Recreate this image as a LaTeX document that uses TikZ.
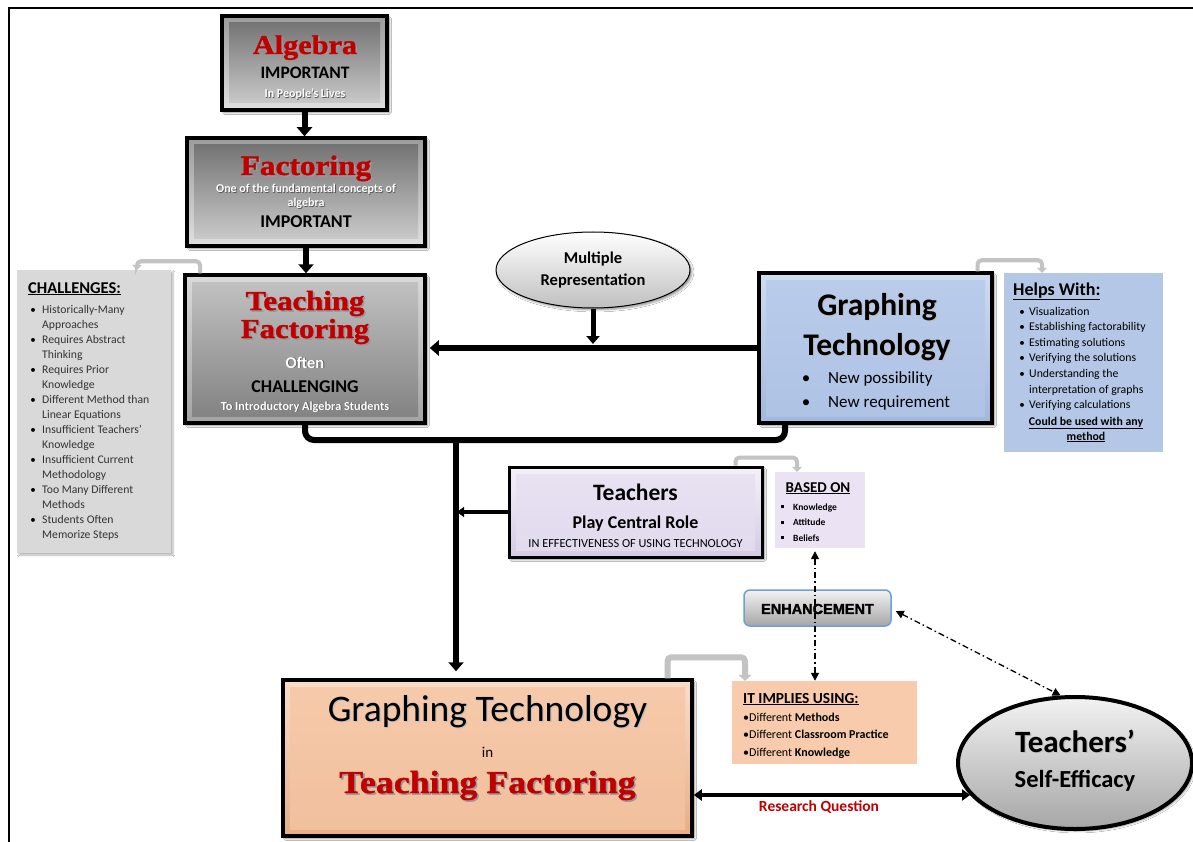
\documentclass[tikz,border=0pt]{standalone}
\usepackage{fontspec}
\setmainfont{Carlito}
\newfontfamily\titlefont{Liberation Serif}[FakeStretch=1.12,BoldFeatures={FakeBold=1.4}]
\newfontfamily\blockfont{Liberation Sans}[BoldFeatures={FakeBold=1.6}]
\usetikzlibrary{arrows.meta,shapes.geometric,shadows.blur,calc}

\definecolor{titlered}{HTML}{C00000}
\definecolor{gOutT}{HTML}{9C9C9C}\definecolor{gOutB}{HTML}{E0E0E0}
\definecolor{gInT}{HTML}{6E6E6E}\definecolor{gInB}{HTML}{D0D0D0}
\definecolor{tOutT}{HTML}{DADADA}\definecolor{tOutB}{HTML}{A4A4A4}
\definecolor{tInT}{HTML}{C4C4C4}\definecolor{tInB}{HTML}{808080}
\definecolor{bOutT}{HTML}{CFDCF1}\definecolor{bOutB}{HTML}{A2B7DC}
\definecolor{bInT}{HTML}{BACCEA}\definecolor{bInB}{HTML}{AEC2E5}
\definecolor{lOutT}{HTML}{F4F1F9}\definecolor{lOutB}{HTML}{D4CAE4}
\definecolor{lInT}{HTML}{E8E2F2}\definecolor{lInB}{HTML}{E1DAEE}
\definecolor{pOutT}{HTML}{FADDC8}\definecolor{pOutB}{HTML}{E6AE88}
\definecolor{pInT}{HTML}{F6CAAB}\definecolor{pInB}{HTML}{F1BF9C}
\definecolor{chalgray}{HTML}{D9D9D9}
\definecolor{helpblue}{HTML}{B4C7E7}
\definecolor{basedlav}{HTML}{EBE3F4}
\definecolor{implypeach}{HTML}{F8CBAD}
\definecolor{enhborder}{HTML}{6F9FD8}
\definecolor{bentgray}{HTML}{C3C3C3}

\newcommand\fsz[1]{\fontsize{#1}{#1}\selectfont}
\newcommand\redtitle[1]{\leavevmode\rlap{\hspace{1.6pt}\raisebox{-1.6pt}{\color{black!40}#1}}{\color{titlered}#1}}
\newcommand\whitetxt[1]{\leavevmode\rlap{\hspace{0.8pt}\raisebox{-0.8pt}{\color{black!65}#1}}{\color{white}#1}}
\newcommand\shtxt[1]{\leavevmode\rlap{\hspace{1.2pt}\raisebox{-1.2pt}{\color{black!25}#1}}#1}
\newcommand\sqbul{\raisebox{1.6pt}{\rule{3pt}{3pt}}}

\tikzset{
  tx/.style={inner sep=0pt,anchor=base},
  txl/.style={inner sep=0pt,anchor=base west},
  bx/.style={draw=black,line width=3.5pt,inner sep=0pt,
    blur shadow={shadow xshift=2.5pt,shadow yshift=-2.5pt,shadow opacity=45,shadow blur steps=6}},
  bevel/.style n args={4}{top color=#1,bottom color=#2,
    path picture={\shade[top color=#3,bottom color=#4]
      ([shift={(7pt,7pt)}]path picture bounding box.south west) rectangle
      ([shift={(-7pt,-7pt)}]path picture bounding box.north east);}},
  flatbox/.style={inner sep=0pt},
  bigarrow/.style={line width=6pt,-{Triangle[width=15pt,length=9pt]}},
  midarrow/.style={line width=3.5pt,-{Triangle[width=10pt,length=7pt]}},
  bentarrow/.style={draw=bentgray,line width=4pt,rounded corners=4pt,
    -{Triangle[width=10pt,length=5pt]}},
  dashdot/.style={line width=1.3pt,dash pattern=on 6pt off 3pt on 1.5pt off 3pt,
    {Triangle[width=8pt,length=8pt]}-{Triangle[width=8pt,length=8pt]}},
}

\begin{document}
\begin{tikzpicture}[x=1pt,y=-1pt]
\useasboundingbox (0,0) rectangle (1193,842);
\fill[white] (0,0) rectangle (1193,842);

% page frame (top and left edges)
\draw[line width=2.5pt] (9,842) -- (9,8) -- (1193,8);

% ---------- main boxes ----------
\node[bx,bevel={gOutT}{gOutB}{gInT}{gInB},minimum width=165pt,minimum height=94pt] (alg) at (304.5,63) {};
\node[bx,bevel={gOutT}{gOutB}{gInT}{gInB},minimum width=238pt,minimum height=108pt] (fac) at (306,192) {};
\node[bx,bevel={tOutT}{tOutB}{tInT}{tInB},minimum width=240pt,minimum height=148pt] (teach) at (305,349) {};
\node[bx,bevel={bOutT}{bOutB}{bInT}{bInB},minimum width=233pt,minimum height=150pt] (graph) at (875.5,348) {};
\node[bx,line width=3pt,bevel={lOutT}{lOutB}{lInT}{lInB},minimum width=253pt,minimum height=90pt] (tea) at (635.5,512) {};
\node[bx,bevel={pOutT}{pOutB}{pInT}{pInB},minimum width=409pt,minimum height=156pt] (bot) at (487.5,758) {};

% side panels
\node[flatbox,fill=chalgray,minimum width=154pt,minimum height=283pt,
  blur shadow={shadow xshift=2pt,shadow yshift=-2pt,shadow opacity=30}] (chal) at (94,411.5) {};
\node[flatbox,fill=helpblue,minimum width=159pt,minimum height=179pt] (help) at (1083.5,362.5) {};
\node[flatbox,fill=basedlav,minimum width=90pt,minimum height=76pt] (bo) at (820,510) {};
\node[flatbox,fill=implypeach,minimum width=185pt,minimum height=83pt] (imp) at (824.5,722.5) {};

% ellipses
\node[ellipse,draw=black,line width=1pt,top color=white,bottom color=black!25,
  minimum width=194pt,minimum height=76pt,inner sep=0pt,
  blur shadow={shadow xshift=2pt,shadow yshift=-2pt,shadow opacity=40}] (mr) at (593,270) {};
\node[ellipse,draw=black,line width=4pt,top color=black!5,bottom color=black!35,
  minimum width=234pt,minimum height=132pt,inner sep=0pt,
  blur shadow={shadow xshift=2pt,shadow yshift=-2pt,shadow opacity=40}] (se) at (1075,763) {};

% enhancement button
\node[draw=enhborder,line width=1.5pt,rounded corners=6pt,top color=black!5,bottom color=black!35,
  minimum width=147pt,minimum height=36pt,inner sep=0pt] (enh) at (817.5,608) {};
\node[inner sep=0pt] (enhT) at (817.5,609) {\blockfont\bfseries\fsz{14.5}ENHANCEMENT};

% ---------- texts in main boxes ----------
\node[tx] (algA) at (305,54) {\titlefont\bfseries\fsz{27}\redtitle{Algebra}};
\node[tx] (algB) at (305,79) {\bfseries\fsz{17.5}IMPORTANT};
\node[tx] (algC) at (305,98) {\bfseries\fsz{12}\whitetxt{In People’s Lives}};

\node[tx] (facA) at (306,175) {\titlefont\bfseries\fsz{28}\redtitle{Factoring}};
\node[tx] (facB) at (306,193) {\bfseries\fsz{12}\whitetxt{One of the fundamental concepts of}};
\node[tx] (facC) at (306,207) {\bfseries\fsz{12}\whitetxt{algebra}};
\node[tx] (facD) at (306,228) {\bfseries\fsz{18}IMPORTANT};

\node[tx] (teachA) at (305,310) {\titlefont\bfseries\fsz{27.5}\redtitle{Teaching}};
\node[tx] (teachB) at (305,338) {\titlefont\bfseries\fsz{27.5}\redtitle{Factoring}};
\node[tx] (teachC) at (305,368) {\bfseries\fsz{16.5}\whitetxt{Often}};
\node[tx] (teachD) at (305,392) {\bfseries\fsz{18}CHALLENGING};
\node[tx] (teachE) at (305,410) {\bfseries\fsz{12.3}\whitetxt{To Introductory Algebra Students}};

\node[tx] (graphA) at (877,315) {\bfseries\fsz{31.5}\shtxt{Graphing}};
\node[tx] (graphB) at (877,355) {\bfseries\fsz{31.5}\shtxt{Technology}};
\node[tx] (graphC) at (806,383) {\fsz{17}\textbullet};
\node[txl] (graphD) at (828,383) {\fsz{17}New possibility};
\node[tx] (graphE) at (806,407) {\fsz{17}\textbullet};
\node[txl] (graphF) at (828,407) {\fsz{17}New requirement};

\node[tx] (teaA) at (635.5,500) {\bfseries\fsz{23.5}Teachers};
\node[tx] (teaB) at (635.5,528) {\bfseries\fsz{18}Play Central Role};
\node[tx] (teaC) at (635.5,547) {\fsz{12.3}IN EFFECTIVENESS OF USING TECHNOLOGY};

\node[tx] (botA) at (487.5,721) {\fsz{37.5}\shtxt{Graphing Technology}};
\node[tx] (botB) at (487.5,757) {\fsz{15}in};
\node[tx] (botC) at (487.5,793) {\titlefont\bfseries\fsz{32}\redtitle{Teaching Factoring}};

\node[tx] (mrA) at (593,263) {\bfseries\fsz{16.5}Multiple};
\node[tx] (mrB) at (593,285) {\bfseries\fsz{16.5}Representation};

\node[tx] (seA) at (1075,752) {\bfseries\fsz{31}\shtxt{Teachers’}};
\node[tx] (seB) at (1075,787) {\bfseries\fsz{24.5}\shtxt{Self-Efficacy}};

% ---------- side panel lists ----------
\node[txl] (chalH) at (28,293) {\bfseries\fsz{16.5}\underline{CHALLENGES:}};
\foreach \t [count=\i from 0] in {Historically-Many,Approaches,Requires Abstract,Thinking,
  Requires Prior,Knowledge,Different Method than,Linear Equations,Insufficient Teachers’,
  Knowledge,Insufficient Current,Methodology,Too Many Different,Methods,Students Often,Memorize Steps}
  \node[txl,text=black!80] (chal\i) at (42,313+15*\i) {\fsz{11.7}\t};
\foreach \i in {0,2,...,14}
  \node[tx] (chalb\i) at (33,313+15*\i) {\fsz{11}\textbullet};

\node[txl] (helpH) at (1013,295) {\bfseries\fsz{18}\underline{Helps With:}};
\foreach \t [count=\i from 0] in {Visualization,Establishing factorability,Estimating solutions,
  Verifying the solutions,Understanding the,interpretation of graphs,Verifying calculations}
  \node[txl] (help\i) at (1029,315+15.6*\i) {\fsz{11.8}\t};
\foreach \i in {0,1,2,3,4,6}
  \node[tx] (helpb\i) at (1022,315+15.6*\i) {\fsz{11}\textbullet};
\node[tx] (helpU) at (1086,425) {\bfseries\fsz{11.8}\underline{Could be used with any}};
\node[tx] (helpV) at (1086,440) {\bfseries\fsz{11.8}\underline{method}};

\node[tx] (boH) at (818,492) {\bfseries\fsz{15}\underline{BASED ON}};
\foreach \t [count=\i from 0] in {Knowledge,Attitude,Beliefs}{
  \node[txl] (bo\i) at (793,510+15.5*\i) {\bfseries\fsz{9.5}\t};
  \node[tx] (bob\i) at (782,510+15.5*\i) {\sqbul};
}

\node[txl] (impH) at (743,703) {\bfseries\fsz{15.4}\underline{IT IMPLIES USING:}};
\node[txl] (imp0) at (743,721) {\fsz{12}\textbullet Different \textbf{Methods}};
\node[txl] (imp1) at (743,738) {\fsz{12}\textbullet Different \textbf{Classroom Practice}};
\node[txl] (imp2) at (743,756) {\fsz{12}\textbullet Different \textbf{Knowledge}};

% ---------- connectors ----------
\draw[bigarrow] (alg.south) -- (alg.south |- fac.north);
\draw[bigarrow] (fac.south) -- (fac.south |- teach.north);
\draw[bigarrow] (graph.west) -- ([xshift=3pt]graph.west -| teach.east);
\coordinate (mrj) at (593,344);
\draw[line width=5pt,-{Triangle[width=13pt,length=8pt]}] (mr.south) -- (mrj);

\coordinate (jn) at (456,440);
\draw[line width=6pt,rounded corners=9pt] (teach.south) |- (jn) -| ([xshift=-90.5pt]graph.south);
\draw[bigarrow,shorten >=7pt] ([yshift=-3pt]jn) -- (jn |- bot.north);
\draw[midarrow,shorten >=1pt] (tea.west) -- (tea.west -| jn);
\draw[line width=3.5pt,{Triangle[width=11pt,length=8pt]}-{Triangle[width=11pt,length=8pt]}]
  ([yshift=-37pt]bot.east) -- ([yshift=-37pt]bot.east -| se.197);
\node[tx] (rq) at (819,811) {\bfseries\fsz{15.5}\color{titlered}Research Question};

% bent pointers to the side panels
\draw[bentarrow] ([xshift=-105pt]teach.north) -- ++(0,-12) -| ([xshift=43pt]chal.north);
\draw[bentarrow] ([xshift=102pt]graph.north) -- ++(0,-11) -| ([xshift=-41.5pt]help.north);
\draw[bentarrow] ([xshift=100pt]tea.north) -- ++(0,-8) -| ([xshift=-23pt]bo.north);
\draw[bentarrow,line width=6pt,-{Triangle[width=13pt,length=6pt]}]
  ([xshift=180pt]bot.north) -- ++(0,-21) -| ([xshift=-79.5pt]imp.north);

% dash-dot relations
\draw[dashdot,shorten <=3pt] ([xshift=-5pt]bo.south) -- ([xshift=-5pt]bo.south |- imp.north);
\draw[dashdot] ([xshift=4pt,yshift=-3pt]enh.east) -- (se.102);
\end{tikzpicture}
\end{document}
